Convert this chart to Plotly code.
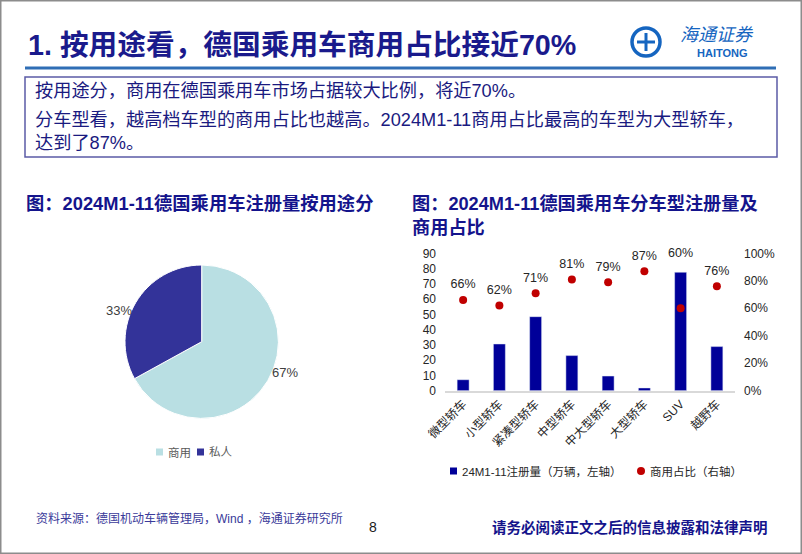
import math
import plotly.graph_objects as go

W, H = 802, 554


def px(x):
    return x / W


def py(y):
    return 1 - y / H


# ---------------- data ----------------
usage_labels = ["商用", "私人"]
usage_share = [67, 33]
usage_colors = ["#b9dfe3", "#333399"]

car_types = ["微型轿车", "小型轿车", "紧凑型轿车", "中型轿车", "中大型轿车", "大型轿车", "SUV", "越野车"]
registrations = [7.2, 30.6, 48.5, 23.0, 9.6, 1.8, 77.6, 28.9]
commercial_share = [0.66, 0.62, 0.71, 0.81, 0.79, 0.87, 0.60, 0.76]

left_ticks = [0, 10, 20, 30, 40, 50, 60, 70, 80, 90]
right_ticks = [0, 0.2, 0.4, 0.6, 0.8, 1.0]
right_tick_text = ["0%", "20%", "40%", "60%", "80%", "100%"]

bar_name = "24M1-11注册量（万辆，左轴）"
dot_name = "商用占比（右轴）"
bar_color = "#000099"
dot_color = "#c00000"

FONT = "Liberation Sans, Noto Sans CJK SC, sans-serif"
NAVY = "#1a1a8c"

fig = go.Figure()

# ---------------- pie ----------------
pie_x0, pie_x1 = 125.0, 278.4
pie_y0, pie_y1 = 265.0, 418.4
fig.add_trace(go.Pie(
    labels=usage_labels,
    values=usage_share,
    marker=dict(colors=usage_colors, line=dict(color="white", width=1)),
    textinfo="none",
    sort=False,
    direction="clockwise",
    rotation=0,
    domain=dict(x=[px(pie_x0), px(pie_x1)], y=[py(pie_y1), py(pie_y0)]),
    showlegend=False,
    hoverinfo="label+percent",
))

# ---------------- bar + dots ----------------
fig.add_trace(go.Bar(
    x=car_types, y=registrations, name=bar_name,
    marker=dict(color=bar_color), xaxis="x", yaxis="y", showlegend=False,
))
fig.add_trace(go.Scatter(
    x=car_types, y=commercial_share, name=dot_name, mode="markers",
    marker=dict(color=dot_color, size=8), xaxis="x", yaxis="y2",
    cliponaxis=False, showlegend=False,
))
# data labels: invisible spacer markers push the text above each dot
# (the SUV label sits above its tall bar, as in the original)
label_gap = [12 if c != "SUV" else 76 for c in car_types]
fig.add_trace(go.Scatter(
    x=car_types, y=commercial_share, mode="markers+text",
    marker=dict(size=label_gap, opacity=0),
    text=[f"{v*100:.0f}%" for v in commercial_share],
    textposition="top center",
    textfont=dict(size=12.5, color="#262626", family=FONT),
    xaxis="x", yaxis="y2", showlegend=False, cliponaxis=False,
    hoverinfo="skip",
))

# ---------------- annotations ----------------
ann = []


def text(x, y, s, size, color, bold=False, xanchor="left", yanchor="middle"):
    ann.append(dict(
        x=px(x), y=py(y), xref="paper", yref="paper", text=(f"<b>{s}</b>" if bold else s),
        showarrow=False, xanchor=xanchor, yanchor=yanchor,
        font=dict(size=size, color=color, family=FONT),
    ))


text(26, 45, "1. 按用途看，德国乘用车商用占比接近70%", 28.7, NAVY, bold=True)
text(33, 91, "按用途分，商用在德国乘用车市场占据较大比例，将近70%。", 18.2, "#1a1a80")
text(33, 120, "分车型看，越高档车型的商用占比也越高。2024M1-11商用占比最高的车型为大型轿车，", 18.2, "#1a1a80")
text(33, 143, "达到了87%。", 18.2, "#1a1a80")

text(24, 203, "图：2024M1-11德国乘用车注册量按用途分", 18.3, "#14148c", bold=True)
text(410, 203, "图：2024M1-11德国乘用车分车型注册量及", 18.2, "#14148c", bold=True)
text(410, 228, "商用占比", 18.2, "#14148c", bold=True)

text(34, 518, "资料来源：德国机动车辆管理局，Wind ，海通证券研究所", 12, "#3a3a9a")
text(373, 527, "8", 14, "#1a1a1a", xanchor="center")
text(770, 527, "请务必阅读正文之后的信息披露和法律声明", 14.5, "#14148c", bold=True, xanchor="right")

# logo text
text(678, 35, "<i>海通证券</i>", 18, "#1565c0")
text(722, 53, "HAITONG", 11, "#1565c0", bold=True, xanchor="center")

# pie percentage labels, placed from slice geometry
cx, cy = (pie_x0 + pie_x1) / 2, (pie_y0 + pie_y1) / 2
r = (pie_x1 - pie_x0) / 2
total = sum(usage_share)
acc = 0
for v in usage_share:
    mid = (acc + v / 2) / total * 2 * math.pi
    acc += v
    sx, cyc = math.sin(mid), math.cos(mid)
    lx = cx + r * 1.03 * sx
    ly = cy - r * 1.03 * cyc
    text(lx, ly, f"{v / total * 100:.0f}%", 13, "#404040",
         xanchor="left" if sx > 0 else "right",
         yanchor="bottom" if cyc < 0 else "top")

# ---------------- shapes ----------------
shapes = [
    dict(type="rect", xref="paper", yref="paper", x0=px(0.75), x1=px(801.25), y0=py(0.75), y1=py(553.25),
         line=dict(color="#8c8c8c", width=1.5)),
    dict(type="line", xref="paper", yref="paper", x0=px(25), x1=px(776), y0=py(68), y1=py(68),
         line=dict(color="#2f6eb5", width=3)),
    dict(type="rect", xref="paper", yref="paper", x0=px(25), x1=px(777), y0=py(77), y1=py(157),
         line=dict(color="#5b5ba6", width=1.5)),
    # logo emblem
    dict(type="circle", xref="paper", yref="paper", x0=px(632), x1=px(660), y0=py(56), y1=py(28),
         line=dict(color="#1565c0", width=3.5)),
    dict(type="line", xref="paper", yref="paper", x0=px(646), x1=px(646), y0=py(33), y1=py(51),
         line=dict(color="#1565c0", width=3)),
    dict(type="line", xref="paper", yref="paper", x0=px(637), x1=px(655), y0=py(42), y1=py(42),
         line=dict(color="#1565c0", width=3)),
]


# ---------------- legends (compact, drawn like the original) ----------------
def legend_square(x, y, color, s=7):
    shapes.append(dict(type="rect", xref="paper", yref="paper",
                       x0=px(x), x1=px(x + s), y0=py(y + s / 2), y1=py(y - s / 2),
                       fillcolor=color, line=dict(width=0)))


def legend_dot(x, y, color, d=8):
    shapes.append(dict(type="circle", xref="paper", yref="paper",
                       x0=px(x), x1=px(x + d), y0=py(y + d / 2), y1=py(y - d / 2),
                       fillcolor=color, line=dict(width=0)))


# pie legend
legend_square(156, 452, usage_colors[0])
text(166, 452, usage_labels[0], 11.5, "#595959")
legend_square(197, 452, usage_colors[1])
text(207, 452, usage_labels[1], 11.5, "#595959")

# bar chart legend
legend_square(450, 471, bar_color)
text(460, 471, bar_name, 11.5, "#262626")
legend_dot(637, 471, dot_color)
text(648, 471, dot_name, 11.5, "#262626")

fig.update_layout(
    width=W, height=H,
    margin=dict(l=0, r=0, t=0, b=0, autoexpand=False),
    paper_bgcolor="white", plot_bgcolor="white",
    font=dict(family=FONT, color="#262626"),
    bargap=0.67,
    showlegend=False,
    xaxis=dict(
        domain=[px(445), px(735)], anchor="y", type="category",
        range=[-0.5, 7.5], showline=True, linecolor="#d9d9d9", linewidth=1.5,
        ticks="", tickangle=-45, showgrid=False, automargin=False,
        tickfont=dict(size=12, color="#262626", family=FONT),
    ),
    yaxis=dict(
        domain=[py(390.7), py(253.3)], anchor="x", range=[0, 90],
        tickvals=left_ticks, showgrid=False, zeroline=False, showline=False,
        ticks="", ticklabelstandoff=8, automargin=False,
        tickfont=dict(size=12, color="#262626", family=FONT),
    ),
    yaxis2=dict(
        domain=[py(390.7), py(253.3)], anchor="x", overlaying="y", side="right",
        range=[0, 1], tickvals=right_ticks, ticktext=right_tick_text, automargin=False,
        showgrid=False, zeroline=False, showline=False, ticks="", ticklabelstandoff=8,
        tickfont=dict(size=12, color="#262626", family=FONT),
    ),
    annotations=ann,
    shapes=shapes,
)

fig.write_html(
    "out.html",
    config={"displayModeBar": False},
    post_script="document.body.style.margin='0px';",
)
